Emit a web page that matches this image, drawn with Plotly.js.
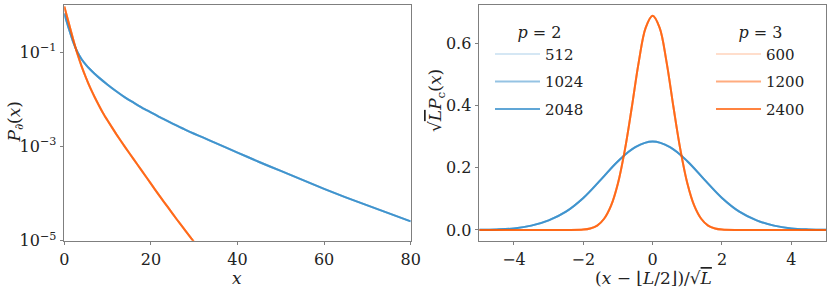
<!DOCTYPE html>
<html><head><meta charset="utf-8">
<script src="https://cdn.plot.ly/plotly-3.0.1.min.js"></script>
<style>html,body{margin:0;padding:0;background:#fff}#chart{width:831px;height:289px}</style>
</head><body><div id="chart"></div>
<script>
// ---- left panel: boundary distribution P_∂(x) (log scale) ----
const boundaryX_p2 = [0,1,2,3,4,5,6,7,8,10,12,14,16,18,20,22,24,26,28,30,32,35,40,45,50,55,60,65,70,75,80];
const boundaryP_p2 = [0.661,0.324,0.170,0.102,0.0708,0.0537,0.0427,0.0347,0.0288,0.0204,0.0148,0.0110,0.00851,0.00661,0.00525,0.00417,0.00339,0.00275,0.00224,0.00186,0.00155,0.00117,0.000741,0.000468,0.000302,0.000195,0.000126,0.0000832,0.0000562,0.0000380,0.0000257];
const boundaryX_p3 = [0,1,2,3,4,5,6,7,8,9,10,12,14,16,18,20,22,24,26,28,30];
const boundaryP_p3 = [0.933,0.427,0.195,0.0933,0.0501,0.0288,0.0174,0.0112,0.00741,0.00501,0.00355,0.00182,0.000977,0.000537,0.000295,0.000162,0.0000891,0.0000501,0.0000282,0.0000162,0.0000093];
const logTickVals = [1e-5,1e-3,1e-1];
const logTickText = ['10<sup>−5</sup>','10<sup>−3</sup>','10<sup>−1</sup>'];

// ---- right panel: rescaled distribution sqrt(L) P_c(x) ----
const scaledX_p2 = [-5,-4.5,-4,-3.5,-3,-2.5,-2,-1.5,-1,-0.5,0,0.5,1,1.5,2,2.5,3,3.5,4,4.5,5];
const scaledP_p2 = [0.0006,0.0018,0.005,0.014,0.031,0.059,0.103,0.161,0.221,0.266,0.284,0.266,0.221,0.161,0.103,0.059,0.031,0.014,0.005,0.0018,0.0006];
const scaledX_p3 = [-5,-3,-2.5,-2,-1.8,-1.6,-1.4,-1.2,-1,-0.8,-0.6,-0.4,-0.2,0,0.2,0.4,0.6,0.8,1,1.2,1.4,1.6,1.8,2,2.5,3,5];
const scaledP_p3 = [0,0,0.0002,0.0015,0.005,0.014,0.036,0.078,0.150,0.258,0.395,0.540,0.650,0.688,0.650,0.540,0.395,0.258,0.150,0.078,0.036,0.014,0.005,0.0015,0.0002,0,0];

const sizes_p2 = ['512','1024','2048'];
const sizes_p3 = ['600','1200','2400'];
const alphas = [0.2,0.5,0.75];

const FONT = 'DejaVu Serif';
const TXT = '#222';
const blue = a => `rgba(43,136,200,${a})`;
const orange = a => `rgba(255,90,0,${a})`;

const traces = [];
for (let i=0;i<3;i++) traces.push({x:boundaryX_p2,y:boundaryP_p2,xaxis:'x',yaxis:'y',mode:'lines',line:{color:blue(alphas[i]),width:2,shape:'spline',smoothing:0.5},showlegend:false,hoverinfo:'skip'});
for (let i=0;i<3;i++) traces.push({x:boundaryX_p3,y:boundaryP_p3,xaxis:'x',yaxis:'y',mode:'lines',line:{color:orange(alphas[i]),width:2,shape:'spline',smoothing:0.5},showlegend:false,hoverinfo:'skip'});
for (let i=0;i<3;i++) traces.push({x:scaledX_p2,y:scaledP_p2,xaxis:'x2',yaxis:'y2',mode:'lines',line:{color:blue(alphas[i]),width:2,shape:'spline',smoothing:1},name:sizes_p2[i],legend:'legend',legendgroup:'a'+i});
for (let i=0;i<3;i++) traces.push({x:scaledX_p3,y:scaledP_p3,xaxis:'x2',yaxis:'y2',mode:'lines',line:{color:orange(alphas[i]),width:2,shape:'spline',smoothing:1},name:sizes_p3[i],legend:'legend2',legendgroup:'b'+i});

const W=831,H=289;
const px = v => v/W, py = v => 1 - v/H;
const axisCommon = {showline:true,mirror:true,linecolor:'#7f7f7f',linewidth:1.2,ticks:'outside',ticklen:3.5,tickwidth:1,tickcolor:'#7f7f7f',showgrid:false,zeroline:false,tickfont:{family:FONT,size:16,color:TXT}};
const yDom = [(H-240.7)/H,(H-5)/H];
const legendCommon = {bgcolor:'rgba(0,0,0,0)',borderwidth:0,font:{family:FONT,size:15,color:TXT},itemwidth:45,traceorder:'grouped',tracegroupgap:5,xanchor:'left',yanchor:'top'};
const titleFont = {family:FONT,size:17,color:TXT};

const layout = {
  width:W,height:H,margin:{l:0,r:0,t:0,b:0},paper_bgcolor:'#fff',plot_bgcolor:'#fff',
  font:{family:FONT,color:TXT},
  xaxis:Object.assign({},axisCommon,{domain:[64.3/W,410.7/W],range:[0,80],tickvals:[0,20,40,60,80],anchor:'y'}),
  yaxis:Object.assign({},axisCommon,{domain:yDom,type:'log',range:[-5,0],tickvals:logTickVals,ticktext:logTickText,anchor:'x'}),
  xaxis2:Object.assign({},axisCommon,{domain:[479.3/W,826/W],range:[-5,5],tickvals:[-4,-2,0,2,4],anchor:'y2'}),
  yaxis2:Object.assign({},axisCommon,{domain:yDom,range:[-0.0344,0.7224],tickvals:[0,0.2,0.4,0.6],ticktext:['0.0','0.2','0.4','0.6'],anchor:'x2'}),
  legend:Object.assign({},legendCommon,{x:490/W,y:py(17),title:{text:'<i>p</i> = 2',side:'top center',font:{family:FONT,size:16,color:TXT}}}),
  legend2:Object.assign({},legendCommon,{x:711/W,y:py(17),title:{text:'<i>p</i> = 3',side:'top center',font:{family:FONT,size:16,color:TXT}}}),
  annotations:[
    {xref:'paper',yref:'paper',x:px(237),y:py(277.5),xanchor:'center',yanchor:'middle',showarrow:false,text:'<i>x</i>',font:titleFont},
    {xref:'paper',yref:'paper',x:px(14.5),y:py(122),xanchor:'center',yanchor:'middle',showarrow:false,textangle:-90,text:'<i>P</i><sub>∂</sub>(<i>x</i>)',font:titleFont},
    {xref:'paper',yref:'paper',x:px(653),y:py(277.5),xanchor:'center',yanchor:'middle',showarrow:false,text:'(<i>x</i> − ⌊<i>L</i>/2⌋)/√<span style="text-decoration:overline"><i>L</i></span>',font:titleFont},
    {xref:'paper',yref:'paper',x:px(436),y:py(101),xanchor:'center',yanchor:'middle',showarrow:false,textangle:-90,text:'√<span style="text-decoration:overline"><i>L</i></span><i>P</i><sub>c</sub>(<i>x</i>)',font:titleFont}
  ],
  showlegend:true
};
Plotly.newPlot('chart',traces,layout,{staticPlot:true,displayModeBar:false});
</script>
</body></html>
